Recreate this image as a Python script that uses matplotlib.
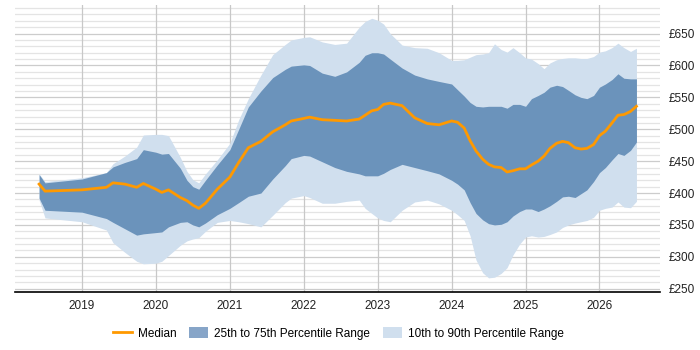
import matplotlib
matplotlib.use("Agg")
import matplotlib.pyplot as plt
from matplotlib.patches import Patch
from matplotlib.lines import Line2D
import numpy as np

plt.rcParams["font.family"] = ["Liberation Sans", "DejaVu Sans"]

# time axis as fractional years
dates = [2018.42, 2018.50, 2019.0, 2019.33, 2019.42, 2019.58, 2019.74, 2019.83, 2020.0, 2020.08,
         2020.17, 2020.33, 2020.42, 2020.50, 2020.58, 2020.67, 2020.83, 2021.0, 2021.12, 2021.25,
         2021.42, 2021.58, 2021.75, 2021.83, 2022.0, 2022.08, 2022.25, 2022.42, 2022.58, 2022.75,
         2022.83, 2022.92, 2023.0, 2023.08, 2023.17, 2023.33, 2023.5, 2023.67, 2023.83, 2024.0,
         2024.08, 2024.17, 2024.25, 2024.33, 2024.42, 2024.5, 2024.58, 2024.67, 2024.75, 2024.83,
         2024.92, 2025.0, 2025.08, 2025.17, 2025.25, 2025.33, 2025.42, 2025.5, 2025.58, 2025.67,
         2025.75, 2025.83, 2025.92, 2026.0, 2026.08, 2026.17, 2026.25, 2026.33, 2026.42, 2026.5]

median = [414, 403, 405, 409, 416, 414, 409, 415, 406, 401,
          405, 393, 388, 381, 376, 384, 406, 425, 448, 471,
          481, 496, 507, 513, 517, 519, 515, 514, 513, 516,
          522, 529, 531, 539, 541, 537, 518, 509, 507, 513,
          511, 502, 482, 466, 453, 445, 441, 440, 433, 435,
          438, 438, 444, 450, 458, 470, 478, 481, 479, 471,
          469, 470, 476, 490, 497, 510, 522, 523, 528, 536]

p75 = [429, 416, 422, 432, 441, 448, 454, 468, 464, 461,
       462, 439, 420, 410, 406, 420, 444, 468, 500, 535,
       560, 581, 594, 599, 601, 600, 588, 583, 590, 605,
       616, 620, 620, 618, 610, 596, 585, 579, 575, 571,
       562, 552, 542, 536, 535, 536, 536, 536, 533, 539,
       539, 536, 548, 553, 558, 566, 569, 567, 561, 554,
       550, 548, 553, 566, 571, 578, 587, 580, 579, 579]

p25 = [392, 373, 370, 360, 354, 344, 334, 336, 338, 339,
       347, 354, 355, 350, 347, 353, 366, 376, 385, 395,
       400, 422, 443, 454, 459, 458, 449, 440, 434, 430,
       427, 427, 427, 431, 437, 445, 440, 435, 430, 420,
       414, 405, 385, 368, 358, 352, 350, 351, 355, 364,
       371, 375, 375, 371, 375, 380, 387, 394, 395, 393,
       399, 405, 418, 432, 440, 452, 462, 459, 467, 480]

p90 = [430, 418, 424, 432, 446, 458, 472, 491, 492, 492,
       490, 456, 434, 421, 416, 430, 452, 478, 515, 548,
       585, 617, 633, 640, 644, 645, 637, 633, 635, 660,
       669, 674, 671, 665, 650, 632, 628, 627, 620, 608,
       608, 609, 613, 617, 618, 620, 634, 625, 621, 628,
       620, 612, 610, 603, 595, 604, 609, 611, 612, 612,
       611, 611, 614, 621, 623, 628, 635, 628, 622, 627]

p10 = [389, 361, 355, 342, 322, 307, 293, 289, 290, 293,
       302, 318, 325, 328, 330, 340, 354, 357, 355, 352,
       347, 365, 385, 392, 396, 393, 384, 384, 387, 389,
       376, 368, 361, 357, 355, 373, 386, 389, 383, 373,
       366, 357, 333, 295, 275, 267, 268, 274, 283, 303,
       320, 331, 333, 331, 332, 335, 339, 346, 350, 353,
       355, 357, 362, 373, 376, 378, 386, 378, 377, 387]

year_ticks = [2019, 2020, 2021, 2022, 2023, 2024, 2025, 2026]
price_ticks = [250, 300, 350, 400, 450, 500, 550, 600, 650]

c_median = "#ff9900"
c_iqr = "#6b93bb"
c_outer = "#d0dfee"

fig = plt.figure(figsize=(7, 3.5), dpi=100)
ax = fig.add_axes([0.021, 0.166, 0.922, 0.82])

# light grey minor lines every £10, darker every £50
for v in range(250, 700, 10):
    ax.axhline(v, color="#cccccc" if v % 50 == 0 else "#e4e4e4", lw=0.9, zorder=0)
for yr in year_ticks:
    ax.axvline(yr, color="#c8c8c8", lw=0.9, zorder=0)

ax.fill_between(dates, p10, p90, color=c_outer, lw=0, zorder=1)
ax.fill_between(dates, p25, p75, color=c_iqr, lw=0, zorder=2)
ax.plot(dates, median, color=c_median, lw=2, zorder=3)

ax.set_xlim(2018.09, 2026.82)
ax.set_ylim(245, 695)
ax.set_xticks(year_ticks)
ax.set_xticklabels([str(y) for y in year_ticks])
ax.yaxis.tick_right()
ax.set_yticks(price_ticks)
ax.set_yticklabels(["£%d" % p for p in price_ticks])
ax.tick_params(axis="both", length=0, labelsize=8.5, colors="#222222")
ax.tick_params(axis="x", pad=6)
ax.tick_params(axis="y", pad=6)

for s in ["top", "right", "left"]:
    ax.spines[s].set_visible(False)
ax.spines["bottom"].set_color("#000000")
ax.spines["bottom"].set_linewidth(1.2)

handles = [
    Line2D([0], [0], color=c_median, lw=2),
    Patch(facecolor="#87a5c8", edgecolor="none"),
    Patch(facecolor=c_outer, edgecolor="none"),
]
labels = ["Median", "25th to 75th Percentile Range", "10th to 90th Percentile Range"]
fig.legend(handles, labels, loc="center", bbox_to_anchor=(0.483, 0.047), ncol=3,
           frameon=False, fontsize=8.5, handlelength=1.6, handleheight=1.0,
           columnspacing=1.1, handletextpad=0.5)

fig.savefig("out.png", dpi=100)
